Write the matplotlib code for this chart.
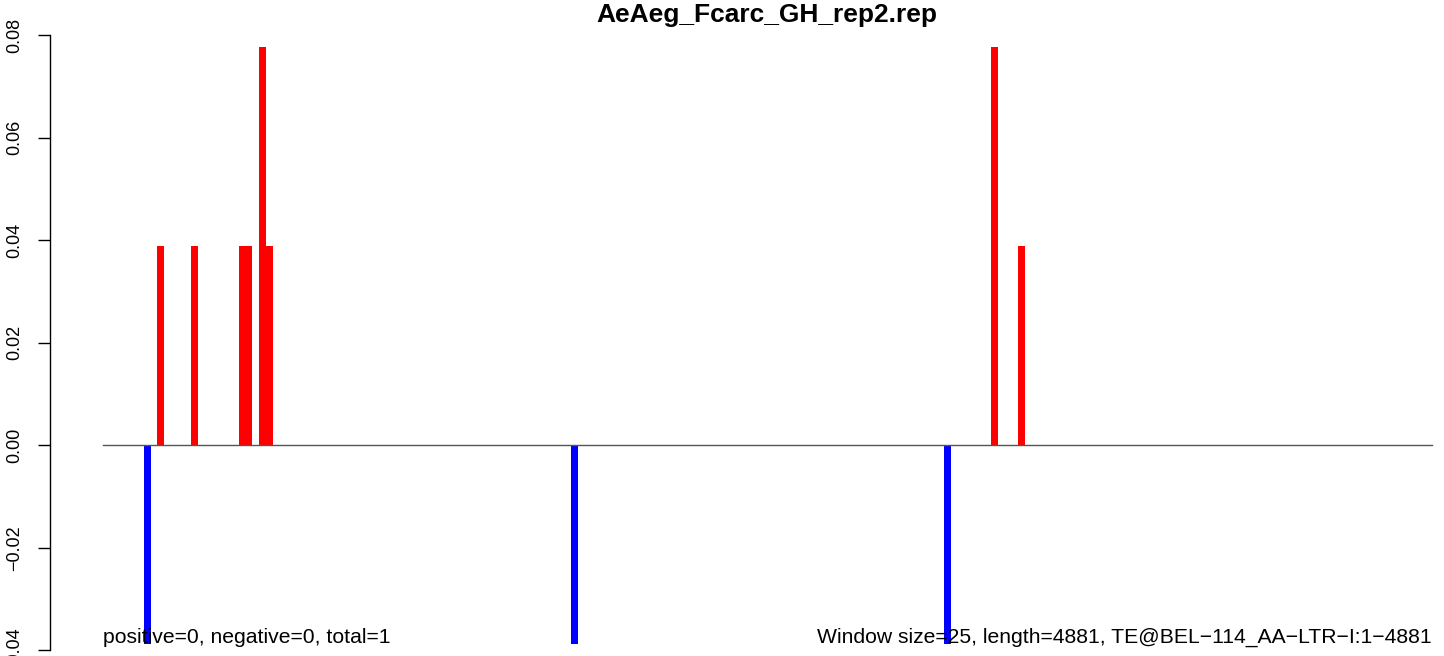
import numpy as np
import matplotlib.pyplot as plt

plt.rcParams['font.family'] = ['Liberation Sans', 'DejaVu Sans']

# window bins (0-based) and per-window signal
n_bins = 196
pos_bins = [8, 13, 20, 21, 23, 24, 131, 135]
pos_vals = [0.0388, 0.0388, 0.0388, 0.0388, 0.0777, 0.0388, 0.0777, 0.0388]
neg_bins = [6, 69, 124]
neg_vals = [-0.0388, -0.0388, -0.0388]
yticks = [-0.04, -0.02, 0.00, 0.02, 0.04, 0.06, 0.08]

title = "AeAeg_Fcarc_GH_rep2.rep"
left_note = "positive=0, negative=0, total=1"
right_note = "Window size=25, length=4881, TE@BEL\u2212114_AA\u2212LTR\u2212I:1\u22124881"

W, H = 1444, 656
fig = plt.figure(figsize=(W / 100, H / 100), dpi=100)
# plot region runs past the right/bottom edge of the picture, like the cropped original
ax = fig.add_axes([50 / W, (H - 668) / H, 1435 / W, 645 / H])

ax.bar(pos_bins, pos_vals, width=1, align='edge', color='#ff0000', linewidth=0)
ax.bar(neg_bins, neg_vals, width=1, align='edge', color='#0000ff', linewidth=0)
ax.plot([0, n_bins], [0, 0], color='#555555', lw=1)

ymin = min(neg_vals)
ymax = max(pos_vals)
pad = 0.04 * (ymax - ymin)
ax.set_ylim(ymin - pad, ymax + pad)
ax.set_xlim(-0.04 * n_bins, 1.04 * n_bins)

for s in ['top', 'right', 'bottom']:
    ax.spines[s].set_visible(False)
ax.spines['left'].set_bounds(yticks[0], yticks[-1])
ax.spines['left'].set_linewidth(1)
ax.set_xticks([])
ax.set_yticks(yticks)
labels = [('%.2f' % v).replace('-', '\u2212') for v in yticks]
ax.set_yticklabels(labels, rotation=90, va='center', fontsize=13)
ax.tick_params(axis='y', length=8.6, width=1, pad=11)

ax.text(0, ymin + 0.0003, left_note, ha='left', va='baseline', fontsize=15.2)
ax.text(n_bins, ymin + 0.0003, right_note, ha='right', va='baseline', fontsize=15.2)

fig.text(767 / W, 1 - 22 / H, title, ha='center', va='baseline', fontsize=19, fontweight='bold')

fig.savefig('out.png', dpi=100)
